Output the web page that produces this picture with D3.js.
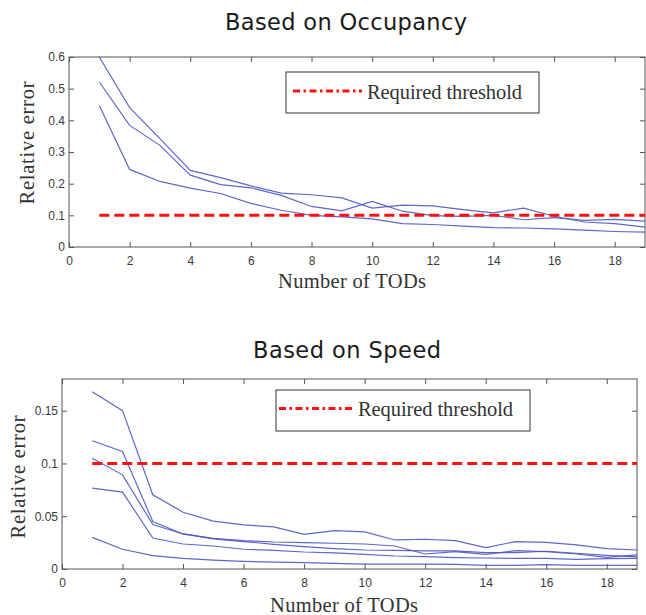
<!DOCTYPE html>
<html>
<head>
<meta charset="utf-8">
<script src="https://cdn.jsdelivr.net/npm/d3@7"></script>
<style>
  body { margin: 0; background: #fff; }
  svg { display: block; }
  .tick text { font-family: "Liberation Sans", Arial, sans-serif; font-size: 12px; fill: #3a3a3a; }
  .tick line { stroke: #555; }
  .title { font-family: "DejaVu Sans", sans-serif; font-size: 22.5px; fill: #1a1a1a; }
  .lab { font-family: "Liberation Serif", "Times New Roman", serif; font-size: 20.5px; fill: #333; }
</style>
</head>
<body>
<svg id="chart" width="646" height="615"></svg>
<script>
// number of TODs on the x axis
var tods = [1, 2, 3, 4, 5, 6, 7, 8, 9, 10, 11, 12, 13, 14, 15, 16, 17, 18, 19];

// relative error, based on occupancy
var occA = [0.600, 0.440, 0.342, 0.242, 0.219, 0.193, 0.170, 0.165, 0.155, 0.123, 0.132, 0.130, 0.118, 0.108, 0.123, 0.097, 0.079, 0.074, 0.063];
var occB = [0.521, 0.384, 0.321, 0.227, 0.197, 0.187, 0.163, 0.128, 0.114, 0.144, 0.113, 0.099, 0.097, 0.100, 0.086, 0.093, 0.084, 0.087, 0.082];
var occC = [0.447, 0.245, 0.207, 0.186, 0.169, 0.138, 0.116, 0.100, 0.095, 0.089, 0.074, 0.071, 0.066, 0.061, 0.060, 0.057, 0.053, 0.049, 0.047];

// relative error, based on speed
var spdA = [0.168, 0.150, 0.0703, 0.0538, 0.0453, 0.0418, 0.0399, 0.0329, 0.0364, 0.0351, 0.0275, 0.0282, 0.0269, 0.0203, 0.0260, 0.0253, 0.0228, 0.0193, 0.0180];
var spdB = [0.1215, 0.1114, 0.0449, 0.0332, 0.0291, 0.0269, 0.0256, 0.0250, 0.0244, 0.0237, 0.0218, 0.0142, 0.0165, 0.0139, 0.0174, 0.0165, 0.0142, 0.0110, 0.0133];
var spdC = [0.105, 0.0892, 0.0421, 0.0332, 0.0285, 0.0260, 0.0234, 0.0212, 0.0193, 0.0180, 0.0177, 0.0171, 0.0171, 0.0155, 0.0155, 0.0168, 0.0149, 0.0130, 0.0115];
var spdD = [0.0766, 0.0728, 0.0294, 0.0237, 0.0218, 0.0187, 0.0177, 0.0161, 0.0152, 0.0139, 0.0123, 0.0117, 0.0108, 0.0104, 0.0101, 0.0101, 0.0092, 0.0098, 0.0101];
var spdE = [0.030, 0.0187, 0.0127, 0.0101, 0.0085, 0.0073, 0.0066, 0.0060, 0.0054, 0.0047, 0.0047, 0.0047, 0.0044, 0.0035, 0.0035, 0.0041, 0.0035, 0.0035, 0.0035];

var threshold = 0.1;
var xTicks = [0, 2, 4, 6, 8, 10, 12, 14, 16, 18];
var occTicks = [0, 0.1, 0.2, 0.3, 0.4, 0.5, 0.6];
var spdTicks = [0, 0.05, 0.1, 0.15];

var svg = d3.select("#chart");

function panel(opt) {
  var x = d3.scaleLinear().domain([0, 19]).range([opt.left, opt.right]);
  var y = d3.scaleLinear().domain([0, opt.ymax]).range([opt.bottom, opt.top]);
  var g = svg.append("g");

  // inward ticks on all four sides
  g.append("g").attr("transform", "translate(0," + opt.bottom + ")")
    .call(d3.axisBottom(x).tickValues(xTicks).tickSizeInner(-5).tickSizeOuter(0).tickPadding(9).tickFormat(d3.format("d")));
  g.append("g").attr("transform", "translate(0," + opt.top + ")")
    .call(d3.axisTop(x).tickValues(xTicks).tickSizeInner(-5).tickSizeOuter(0).tickFormat(""));
  g.append("g").attr("transform", "translate(" + opt.left + ",0)")
    .call(d3.axisLeft(y).tickValues(opt.yTicks).tickSizeInner(-5).tickSizeOuter(0).tickPadding(4).tickFormat(function(d) { return String(+d.toFixed(2)); }));
  g.append("g").attr("transform", "translate(" + opt.right + ",0)")
    .call(d3.axisRight(y).tickValues(opt.yTicks).tickSizeInner(-5).tickSizeOuter(0).tickFormat(""));
  g.selectAll(".domain").remove();

  g.append("rect")
    .attr("x", opt.left).attr("y", opt.top)
    .attr("width", opt.right - opt.left).attr("height", opt.bottom - opt.top)
    .attr("fill", "none").attr("stroke", "#555").attr("stroke-width", 1);

  var line = d3.line()
    .x(function(d, i) { return x(tods[i]); })
    .y(function(d) { return y(d); });

  opt.series.forEach(function(s) {
    g.append("path").datum(s)
      .attr("d", line)
      .attr("fill", "none")
      .attr("stroke", "#4c57c4")
      .attr("stroke-opacity", 0.9)
      .attr("stroke-width", 1.2);
  });

  g.append("line")
    .attr("x1", x(1)).attr("x2", x(19))
    .attr("y1", y(threshold)).attr("y2", y(threshold))
    .attr("stroke", "#ff1010").attr("stroke-width", 3)
    .attr("stroke-dasharray", "10,5");

  // legend
  var L = opt.legend;
  g.append("rect")
    .attr("x", L.x).attr("y", L.y).attr("width", L.w).attr("height", L.h)
    .attr("fill", "#fff").attr("stroke", "#333").attr("stroke-width", 1);
  g.append("line")
    .attr("x1", L.lx1).attr("x2", L.lx2).attr("y1", L.ly).attr("y2", L.ly)
    .attr("stroke", "#ff1010").attr("stroke-width", 3)
    .attr("stroke-dasharray", "7,3.5,2.5,3.5");
  g.append("text").attr("class", "lab")
    .attr("x", L.tx).attr("y", L.ty)
    .attr("textLength", 155)
    .text("Required threshold");

  // titles and axis labels
  g.append("text").attr("class", "title")
    .attr("x", opt.titleX).attr("y", opt.titleY)
    .attr("text-anchor", "middle")
    .attr("textLength", opt.titleW)
    .text(opt.title);
  g.append("text").attr("class", "lab")
    .attr("x", opt.xlabX).attr("y", opt.xlabY)
    .attr("text-anchor", "middle")
    .attr("textLength", 148)
    .text("Number of TODs");
  g.append("text").attr("class", "lab")
    .attr("transform", "translate(" + opt.ylabX + "," + opt.ylabY + ") rotate(-90)")
    .attr("text-anchor", "middle")
    .attr("textLength", 123)
    .text("Relative error");
}

panel({
  left: 69, right: 645, top: 57, bottom: 247, ymax: 0.6,
  yTicks: occTicks, series: [occA, occB, occC],
  legend: { x: 286, y: 72, w: 253, h: 41, lx1: 293, lx2: 362, ly: 91, tx: 367, ty: 98.5 },
  title: "Based on Occupancy", titleX: 346, titleY: 30, titleW: 242,
  xlabX: 352, xlabY: 288, ylabX: 34, ylabY: 143
});

panel({
  left: 62, right: 637, top: 379, bottom: 569, ymax: 0.18,
  yTicks: spdTicks, series: [spdA, spdB, spdC, spdD, spdE],
  legend: { x: 276, y: 390, w: 254, h: 41, lx1: 279, lx2: 353, ly: 408.5, tx: 358, ty: 416 },
  title: "Based on Speed", titleX: 347, titleY: 358, titleW: 188,
  xlabX: 344, xlabY: 612, ylabX: 25, ylabY: 477
});
</script>
</body>
</html>
